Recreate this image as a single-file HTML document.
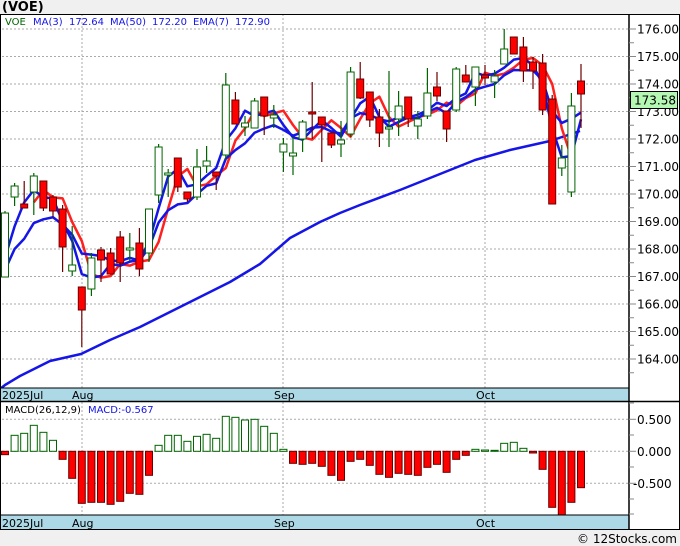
<!DOCTYPE html>
<html><head><meta charset="utf-8"><style>
html,body{margin:0;padding:0;background:#f0f0f0;}
svg{display:block;font-family:"DejaVu Sans","Liberation Sans",sans-serif;}
</style></head><body>
<svg id="s" width="680" height="546" xmlns="http://www.w3.org/2000/svg"></svg>
<script>
const S=document.getElementById('s');let h='';
h+='<rect x="0" y="0" width="680" height="546" fill="#f0f0f0"/>';
h+='<text x="2" y="11" font-size="13" font-weight="bold" fill="#000">(VOE)</text>';
h+='<rect x="0" y="14" width="680" height="516" fill="#fff"/>';
const py=p=>29+(176-p)*27.5;
for(let p=164;p<=176;p++){h+=`<line x1="2" x2="629" y1="${py(p)}" y2="${py(p)}" stroke="#aaa" stroke-dasharray="2,2"/>`;}
[82,283,485].forEach(x=>{h+=`<line x1="${x}" x2="${x}" y1="14" y2="388" stroke="#aaa" stroke-dasharray="2,2"/><line x1="${x}" x2="${x}" y1="402" y2="515" stroke="#aaa" stroke-dasharray="2,2"/>`;});
[419.3,451.3,483.3].forEach(y=>{h+=`<line x1="2" x2="629" y1="${y}" y2="${y}" stroke="#aaa" stroke-dasharray="2,2"/>`;});
const C=[
['g',213,277,211,277],['g',186,197,183,206],['r',204,208,181,208],['g',176,192,173,215],['r',181,208,181,211],
['r',197,211,195,217],['r',209,247,205,272],['g',265,271,226,276],['r',287,310,287,347],['g',258,289,253,296],
['r',250,260,247,282],['r',253,274,248,274],['r',237,263,231,282],['g',248,250,233,261],['r',243,269,228,276],
['g',209,253,209,262],['g',147,195,144,203],['g',173,175,169,197],['r',158,187,158,192],['r',192,199,192,202],
['g',167,197,149,200],['g',161,166,146,173],['r',172,176,172,190],['g',85,155,73,160],['r',100,124,92,124],
['g',123,127,116,136],['g',101,128,98,128],['r',97,116,97,135],['g',115,118,105,128],['g',144,152,138,172],
['g',153,156,137,175],['g',122,139,120,152],['r',112,114,82,139],['r',117,125,117,162],['r',133,145,133,148],
['g',140,144,121,157],['g',72,134,67,137],['r',79,98,62,99],['r',92,120,92,127],['r',117,133,109,147],
['g',127,129,71,147],['g',106,119,91,136],['r',97,119,97,127],['g',119,126,111,139],['g',93,116,68,119],
['r',87,96,72,101],['r',111,129,111,142],['g',69,110,67,112],['r',75,82,65,82],['g',67,87,67,106],
['r',75,78,65,85],['g',76,82,70,98],['g',49,64,29,64],['r',37,54,37,54],['r',47,71,37,82],
['r',62,71,57,89],['r',63,110,54,115],['r',99,204,95,204],['g',158,168,145,176],['g',106,192,93,197],['r',81,94,64,128]];
const X=i=>5+9.6*i;
const closes=C.map(c=>c[0]=='g'?c[1]:c[2]);
const ext=[280,280].concat(closes);
function poly(pts,col,w){return `<polyline points="${pts.map(p=>p.join(',')).join(' ')}" fill="none" stroke="${col}" stroke-width="${w}" stroke-linejoin="round"/>`;}
h+=poly([[0,389],[5,385],[20,376],[50,361],[81,354],[110,340],[140,327],[170,312],[200,297],[230,282],[260,264],[290,238],[320,222],[340,213],[360,205],[400,190],[440,174],[475,160],[510,150],[550,141],[580,131]],'#1515e8',2.5);
let ma3=[],ema=[],e=289;
closes.forEach((c,i)=>{e=e+(c-e)*0.25;ema.push([X(i),e]);const j=i+2;ma3.push([X(i),(ext[j]+ext[j-1]+ext[j-2])/3]);});
let red=[];for(let i=3;i<closes.length-1;i++){red.push([X(i),(closes[i-1]+closes[i-2]+closes[i-3])/3]);}
h+=poly(red,'#ff2020',2.5);
h+=poly(ma3,'#1515e8',2.5);
h+=poly(ema,'#1515e8',2.5);
C.forEach((c,i)=>{const x=X(i);const g=c[0]=='g';const col=g?'#006400':'#6a0000';
h+=`<line x1="${x}" x2="${x}" y1="${c[3]}" y2="${c[4]}" stroke="${col}" stroke-width="1.2"/>`;
h+=`<rect x="${x-3.5}" y="${c[1]}" width="7" height="${Math.max(1,c[2]-c[1])}" fill="${g?'#fff':'#ff0000'}" stroke="${col}" stroke-width="1"/>`;});
h+='<text x="5" y="25" font-size="10" fill="#006400">VOE</text><text x="33" y="25" font-size="10" fill="#1515e8">MA(3)</text><text x="69" y="25" font-size="10" fill="#1515e8">172.64</text><text x="110" y="25" font-size="10" fill="#1515e8">MA(50)</text><text x="152" y="25" font-size="10" fill="#1515e8">172.20</text><text x="193" y="25" font-size="10" fill="#1515e8">EMA(7)</text><text x="235" y="25" font-size="10" fill="#1515e8">172.90</text>';
const M=[224,166,160,136,157,181,238,295,370,367,367,373,364,340,343,286,196,166,166,184,169,163,175,109,112,120,118,139,160,208,250,253,250,259,286,301,244,238,256,283,292,280,283,286,262,253,277,238,226,208,210,211,190,187,205,219,268,382,405,367,323];
M.forEach((v,i)=>{const y=v/3+380,z=451.3,x=X(i);
if(y<z)h+=`<rect x="${x-3.5}" y="${y}" width="7" height="${z-y}" fill="#fff" stroke="#006400"/>`;
else h+=`<rect x="${x-3.5}" y="${z}" width="7" height="${y-z}" fill="#ff0000" stroke="#6a0000"/>`;});
h+='<text x="5" y="413" font-size="10" fill="#000">MACD(26,12,9)</text><text x="88" y="413" font-size="10" fill="#1515e8">MACD:-0.567</text>';
h+='<rect x="0" y="388" width="629" height="14" fill="#add8e6"/><rect x="0" y="515" width="629" height="15" fill="#add8e6"/>';
[[2,'2025Jul'],[72,'Aug'],[274,'Sep'],[476,'Oct']].forEach(([x,t])=>{h+=`<text x="${x}" y="399" font-size="11" fill="#000">${t}</text><text x="${x}" y="527" font-size="11" fill="#000">${t}</text>`;});
h+='<rect x="0.5" y="14.5" width="679" height="515" fill="none" stroke="#000"/>';
h+='<line x1="629" x2="629" y1="14" y2="530" stroke="#000" stroke-width="1.5"/>';
h+='<line x1="0" x2="629" y1="388" y2="388" stroke="#000"/><line x1="0" x2="680" y1="401.5" y2="401.5" stroke="#000" stroke-width="1.5"/><line x1="0" x2="629" y1="515" y2="515" stroke="#000"/>';
h+='<line x1="0" x2="0" y1="14" y2="530" stroke="#000" stroke-width="2"/>';
for(let p=163;p<=176.5;p+=0.5){const y=py(p);if(y<16||y>386)continue;const whole=p%1==0;
h+=`<line x1="629" x2="${whole?636:634}" y1="${y}" y2="${y}" stroke="#888"/>`;
if(whole&&p>=164)h+=`<text x="637" y="${y+4.5}" font-size="12" fill="#000">${p.toFixed(2)}</text>`;}
[[419.3,'0.500'],[451.3,'0.000'],[483.3,'-0.500']].forEach(([y,t])=>{h+=`<line x1="629" x2="636" y1="${y}" y2="${y}" stroke="#888"/><text x="${t[0]=='-'?633:637}" y="${y+4.5}" font-size="12" fill="#000">${t}</text>`;});
[403,435,467,499,514].forEach(y=>{h+=`<line x1="629" x2="634" y1="${y}" y2="${y}" stroke="#888"/>`;});
h+='<rect x="630.5" y="91.5" width="47" height="17" fill="#b4f8b4" stroke="#000"/><text x="634" y="104.5" font-size="12" fill="#000">173.58</text>';
h+='<text x="677" y="543" font-size="12" fill="#000" text-anchor="end">© 12Stocks.com</text>';
S.innerHTML=h;
</script>
</body></html>
